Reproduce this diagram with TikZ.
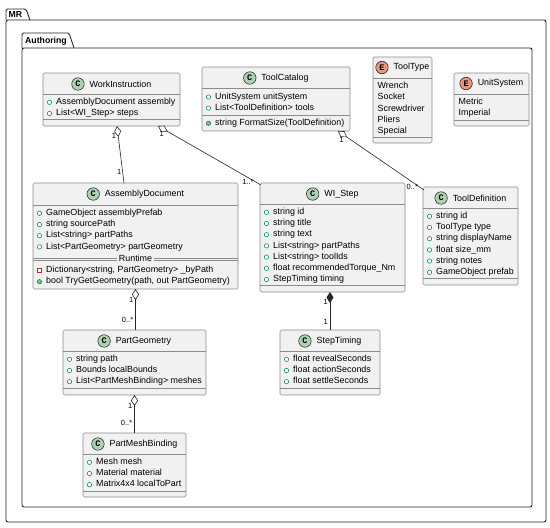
\documentclass[tikz,border=0pt]{standalone}
\usepackage{fontspec}
\setmainfont{Liberation Sans}
\setmonofont{Liberation Mono}
\usetikzlibrary{arrows.meta,positioning}

\definecolor{clsfill}{HTML}{F1F1F1}
\definecolor{clsgray}{HTML}{8C8C8C}
\definecolor{cgreen}{HTML}{ADD1B2}
\definecolor{ered}{HTML}{EB937F}
\definecolor{pubgreen}{HTML}{038048}
\definecolor{mthgreen}{HTML}{84BE84}
\definecolor{privred}{HTML}{C82930}

\newcommand\umlfont{\fontsize{8.9}{10.7}\selectfont}

% class body as one named node, given by its corners
\newcommand\clsbox[5]{%
  \node[clsbox,minimum width={(#4-#2)*1pt},minimum height={(#5-#3)*1pt}]
    (#1) at ({(#2+#4)/2},{(#3+#5)/2}) {};}
% header: circled letter + class name, centred on x
\newcommand\clshead[6]{%
  \node[clstitle] (#1-t) at (#2+9,#3) {#6};
  \node[#4,left=5pt of #1-t] (#1-i) {#5};}
\newcommand\clssep[3]{\draw[sepline] (#1,#3) -- (#2,#3);}
% public fields, one every 11.2pt
\newcommand\fields[4]{%
  \foreach \txt [count=\i from 0] in {#4} {
    \draw[pubfld] (#2+6.5,#3+11.2*\i) circle (2.2pt);
    \node[member] (#1\i) at (#2+13,#3+11.2*\i) {\txt};
  }}
\newcommand\enumitems[4]{%
  \foreach \txt [count=\i from 0] in {#4}
    \node[member] (#1\i) at (#2+4.5,#3+11.2*\i) {\txt};}

\begin{document}
\begin{tikzpicture}[x=1pt,y=-1pt,
  clsbox/.style={draw=clsgray,fill=clsfill,line width=0.6pt,rounded corners=1.5pt,inner sep=0pt,outer sep=0pt},
  clstitle/.style={inner sep=0pt,font=\umlfont},
  cicon/.style={circle,draw=black!90,line width=0.5pt,fill=cgreen,minimum size=12.5pt,inner sep=0pt,
    font=\ttfamily\bfseries\fontsize{8.5}{9}\selectfont},
  eicon/.style={cicon,fill=ered},
  member/.style={anchor=west,inner sep=0pt,font=\umlfont,text height=6.4pt,text depth=1.9pt},
  pubfld/.style={draw=pubgreen,line width=0.5pt,fill=white},
  pubmth/.style={draw=pubgreen,fill=mthgreen,line width=0.5pt},
  privfld/.style={draw=privred,line width=0.5pt,fill=white},
  sepline/.style={draw=clsgray,line width=0.6pt},
  link/.style={draw=black!85,line width=0.6pt},
  agg/.style={link,{Diamond[fill=white,length=11pt,width=7pt]}-},
  comp/.style={link,{Diamond[length=11pt,width=7pt]}-},
  mult/.style={font=\fontsize{7.5}{8}\selectfont,inner sep=1pt},
  pkg/.style={draw=black!85,line width=0.9pt},
  pkglabel/.style={font=\bfseries\fontsize{8.7}{10}\selectfont,inner sep=0pt,anchor=west}]
  \useasboundingbox[fill=white] (0,0) rectangle (550,528);

  % packages
  \draw[pkg,rounded corners=2pt] (6,20) rectangle (546,522);
  \draw[pkg,rounded corners=1.5pt] (6,20) -- (6,9) -- (26,9) -- (30,20);
  \node[pkglabel] (mr) at (8.5,15) {MR};
  \draw[pkg,rounded corners=2pt] (22,48) rectangle (532,507);
  \draw[pkg,rounded corners=1.5pt] (22,48) -- (22,33) -- (69,33) -- (74,48);
  \node[pkglabel] (authoring) at (25,41) {Authoring};

  % WorkInstruction
  \clsbox{wi}{43}{73}{180}{126}
  \clshead{wi}{111.5}{84}{cicon}{C}{WorkInstruction}
  \clssep{43}{180}{94}
  \fields{wi-f}{43}{102.3}{AssemblyDocument assembly, List<WI\_Step> steps}
  \clssep{43}{180}{119.7}

  % ToolCatalog
  \clsbox{tc}{202}{67}{350}{131}
  \clshead{tc}{276}{78}{cicon}{C}{ToolCatalog}
  \clssep{202}{350}{88.5}
  \fields{tc-f}{202}{97}{UnitSystem unitSystem, List<ToolDefinition> tools}
  \clssep{202}{350}{115}
  \draw[pubmth] (208.5,123.3) circle (2.2pt);
  \node[member] (tc-m0) at (215,123.3) {string FormatSize(ToolDefinition)};

  % enums
  \clsbox{tt}{373}{57}{432}{143}
  \clshead{tt}{402.5}{67.5}{eicon}{E}{ToolType}
  \clssep{373}{432}{78}
  \enumitems{tt-v}{373}{86.5}{Wrench, Socket, Screwdriver, Pliers, Special}
  \clssep{373}{432}{137.5}

  \clsbox{us}{454}{73}{529}{126}
  \clshead{us}{491.5}{83.5}{eicon}{E}{UnitSystem}
  \clssep{454}{529}{94}
  \enumitems{us-v}{454}{102.5}{Metric, Imperial}
  \clssep{454}{529}{120}

  % AssemblyDocument
  \clsbox{ad}{33}{183}{238}{289}
  \clshead{ad}{135.5}{194}{cicon}{C}{AssemblyDocument}
  \clssep{33}{238}{205}
  \fields{ad-f}{33}{213.3}{GameObject assemblyPrefab, string sourcePath, List<string> partPaths, List<PartGeometry> partGeometry}
  \draw[sepline] (33,258) -- (238,258) (33,260.5) -- (238,260.5);
  \node[member,anchor=center,fill=clsfill,inner xsep=1.5pt] (ad-rt) at (135.5,259.2) {Runtime};
  \draw[privfld] (37.3,268.3) rectangle (41.7,272.7);
  \node[member] (ad-p0) at (46,270.5) {Dictionary<string, PartGeometry> \_byPath};
  \draw[pubmth] (39.5,281.7) circle (2.2pt);
  \node[member] (ad-m0) at (46,281.7) {bool TryGetGeometry(path, out PartGeometry)};

  % WI_Step
  \clsbox{ws}{260}{183}{405}{292}
  \clshead{ws}{332.5}{194}{cicon}{C}{WI\_Step}
  \clssep{260}{405}{204}
  \fields{ws-f}{260}{212.3}{string id, string title, string text, List<string> partPaths, List<string> toolIds, float recommendedTorque\_Nm, StepTiming timing}
  \clssep{260}{405}{285.7}

  % ToolDefinition
  \clsbox{td}{423}{187}{518}{285}
  \clshead{td}{470.5}{198}{cicon}{C}{ToolDefinition}
  \clssep{423}{518}{208}
  \fields{td-f}{423}{216.3}{string id, ToolType type, string displayName, float size\_mm, string notes, GameObject prefab}
  \clssep{423}{518}{278.5}

  % PartGeometry
  \clsbox{pg}{63}{330}{206}{395}
  \clshead{pg}{134.5}{341}{cicon}{C}{PartGeometry}
  \clssep{63}{206}{351}
  \fields{pg-f}{63}{359.3}{string path, Bounds localBounds, List<PartMeshBinding> meshes}
  \clssep{63}{206}{388.5}

  % PartMeshBinding
  \clsbox{pmb}{83}{433}{186}{497}
  \clshead{pmb}{134.5}{444}{cicon}{C}{PartMeshBinding}
  \clssep{83}{186}{454}
  \fields{pmb-f}{83}{462.3}{Mesh mesh, Material material, Matrix4x4 localToPart}
  \clssep{83}{186}{491}

  % StepTiming
  \clsbox{st}{280}{330}{380}{395}
  \clshead{st}{330}{341}{cicon}{C}{StepTiming}
  \clssep{280}{380}{351}
  \fields{st-f}{280}{359.3}{float revealSeconds, float actionSeconds, float settleSeconds}
  \clssep{280}{380}{388.5}

  % relations
  \draw[agg] ([xshift=5.5pt]wi.south) -- ([xshift=-11.5pt]ad.north)
    node[mult,pos=0.18,left=1pt] (m1) {1}
    node[mult,pos=0.8,left=0pt] (m2) {1};
  \draw[agg] ([xshift=46.5pt]wi.south) -- ([shift={(1pt,-2pt)}]ws.north west)
    node[mult,pos=0.07,below left=0pt] (m3) {1}
    node[mult,pos=0.92,below left=-3pt] (m4) {1..*};
  \draw[agg] ([xshift=62pt]tc.south) -- ([shift={(1pt,-3pt)}]td.north west)
    node[mult,pos=0.08,below left=0pt] (m5) {1}
    node[mult,pos=0.92,below left=-3pt] (m6) {0..*};
  \draw[agg] (ad.south) -- (ad.south |- pg.north)
    node[mult,pos=0.27,left=1pt] (m7) {1}
    node[mult,pos=0.75,left=1pt] (m8) {0..*};
  \draw[agg] (pg.south) -- (pmb.north)
    node[mult,pos=0.28,left=1pt] (m9) {1}
    node[mult,pos=0.74,left=1pt] (m10) {0..*};
  \draw[comp] (st.north |- ws.south) -- (st.north)
    node[mult,pos=0.26,left=1pt] (m11) {1}
    node[mult,pos=0.78,left=1pt] (m12) {1};
\end{tikzpicture}
\end{document}
